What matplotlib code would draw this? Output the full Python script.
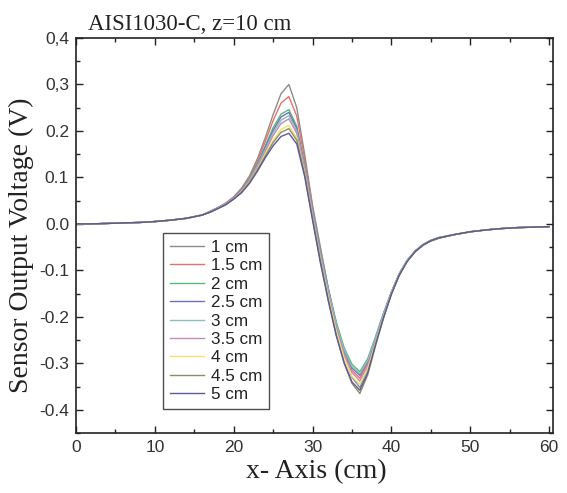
import matplotlib
matplotlib.use("Agg")
import matplotlib.pyplot as plt
from matplotlib.ticker import MultipleLocator, FixedLocator, FixedFormatter

# ---------------- data ----------------
x_cm = [0, 2, 4, 6, 8, 10, 12, 14, 16,
        17, 18, 19, 20, 21, 22, 23, 24, 25, 26, 27, 28, 29, 30, 31, 32, 33, 34, 35, 36,
        37, 38, 39, 40, 41, 42, 43, 44, 45, 46,
        48, 50, 52, 54, 56, 58, 60]

left_tail = [0.000, 0.000, 0.001, 0.002, 0.003, 0.005, 0.008, 0.012, 0.019]
right_tail = [-0.023, -0.017, -0.013, -0.010, -0.008, -0.007, -0.006]

s_1cm = [0.027, 0.035, 0.045, 0.058, 0.077, 0.103, 0.140, 0.185, 0.235, 0.280, 0.300, 0.250, 0.150, 0.040,
         -0.050, -0.140, -0.220, -0.285, -0.330, -0.352, -0.312, -0.255, -0.200, -0.150, -0.110, -0.080,
         -0.060, -0.046, -0.037, -0.031]
s_1p5cm = [0.027, 0.035, 0.044, 0.057, 0.075, 0.100, 0.135, 0.177, 0.222, 0.260, 0.274, 0.232, 0.140, 0.035,
           -0.055, -0.140, -0.215, -0.275, -0.315, -0.332, -0.300, -0.248, -0.196, -0.148, -0.108, -0.079,
           -0.059, -0.045, -0.036, -0.030]
s_2cm = [0.026, 0.034, 0.044, 0.056, 0.073, 0.097, 0.130, 0.168, 0.207, 0.236, 0.246, 0.210, 0.128, 0.030,
         -0.058, -0.138, -0.210, -0.266, -0.302, -0.318, -0.290, -0.242, -0.192, -0.146, -0.107, -0.078,
         -0.058, -0.044, -0.035, -0.029]
s_2p5cm = [0.026, 0.034, 0.043, 0.056, 0.072, 0.095, 0.127, 0.164, 0.201, 0.230, 0.240, 0.205, 0.125, 0.028,
           -0.062, -0.142, -0.215, -0.272, -0.310, -0.326, -0.296, -0.246, -0.194, -0.147, -0.108, -0.079,
           -0.059, -0.045, -0.036, -0.030]
s_3cm = [0.026, 0.034, 0.043, 0.055, 0.071, 0.094, 0.125, 0.160, 0.196, 0.223, 0.233, 0.200, 0.122, 0.025,
         -0.064, -0.143, -0.214, -0.270, -0.307, -0.322, -0.294, -0.245, -0.194, -0.147, -0.108, -0.079,
         -0.059, -0.045, -0.036, -0.030]
s_3p5cm = [0.026, 0.034, 0.043, 0.055, 0.070, 0.092, 0.122, 0.156, 0.190, 0.216, 0.226, 0.195, 0.118, 0.020,
           -0.070, -0.150, -0.222, -0.280, -0.320, -0.338, -0.306, -0.252, -0.198, -0.149, -0.109, -0.080,
           -0.060, -0.045, -0.036, -0.030]
s_4cm = [0.025, 0.033, 0.042, 0.054, 0.069, 0.090, 0.118, 0.150, 0.180, 0.203, 0.212, 0.185, 0.110, 0.015,
         -0.076, -0.157, -0.230, -0.288, -0.328, -0.345, -0.312, -0.256, -0.200, -0.150, -0.110, -0.080,
         -0.060, -0.046, -0.036, -0.030]
s_4p5cm = [0.025, 0.033, 0.042, 0.054, 0.068, 0.089, 0.116, 0.146, 0.175, 0.197, 0.205, 0.180, 0.107, 0.012,
           -0.080, -0.163, -0.238, -0.300, -0.343, -0.365, -0.325, -0.262, -0.203, -0.152, -0.111, -0.081,
           -0.060, -0.046, -0.037, -0.031]
s_5cm = [0.025, 0.033, 0.041, 0.053, 0.067, 0.087, 0.113, 0.142, 0.168, 0.188, 0.195, 0.172, 0.102, 0.008,
         -0.084, -0.166, -0.240, -0.298, -0.340, -0.358, -0.320, -0.259, -0.202, -0.151, -0.110, -0.081,
         -0.060, -0.046, -0.036, -0.030]

labels = ["1 cm", "1.5 cm", "2 cm", "2.5 cm", "3 cm", "3.5 cm", "4 cm", "4.5 cm", "5 cm"]
cores = [s_1cm, s_1p5cm, s_2cm, s_2p5cm, s_3cm, s_3p5cm, s_4cm, s_4p5cm, s_5cm]
colors = ["#8c8c8c", "#e8706a", "#5bb878", "#7070b8", "#86c0bc", "#c48ab8", "#f2e070", "#8e8c62", "#5a5a9c"]

y_ticks = [0.4, 0.3, 0.2, 0.1, 0.0, -0.1, -0.2, -0.3, -0.4]
y_ticklabels = ["0,4", "0,3", "0.2", "0.1", "0.0", "-0.1", "-0.2", "-0.3", "-0.4"]
x_ticks = [0, 10, 20, 30, 40, 50, 60]

# ---------------- figure ----------------
fig = plt.figure(figsize=(5.67, 4.93), dpi=100)
ax = fig.add_axes([76 / 567, 1 - 433 / 493, (553 - 76) / 567, (433 - 38) / 493])

for lab, core, c in zip(labels, cores, colors):
    ax.plot(x_cm, left_tail + core + right_tail, color=c, lw=1.0, label=lab)

ax.set_xlim(0, 60.5)
ax.set_ylim(-0.45, 0.4)

ax.xaxis.set_major_locator(FixedLocator(x_ticks))
ax.xaxis.set_minor_locator(MultipleLocator(5))
ax.yaxis.set_major_locator(FixedLocator(y_ticks))
ax.yaxis.set_major_formatter(FixedFormatter(y_ticklabels))
ax.yaxis.set_minor_locator(MultipleLocator(0.05))

ax.tick_params(which="both", direction="in", top=True, right=True, colors="#222222",
               labelcolor="#333333")
ax.tick_params(which="major", length=5, width=1.0, labelsize=12.5, pad=5)
ax.tick_params(which="minor", length=3, width=1.0)
for lbl in ax.get_xticklabels() + ax.get_yticklabels():
    lbl.set_family("Liberation Sans")
for sp in ax.spines.values():
    sp.set_linewidth(1.2)
    sp.set_color("#222222")

ax.set_xlabel("x- Axis (cm)", family="Liberation Serif", fontsize=20, color="#222222")
ax.xaxis.set_label_coords(0.503, -0.065)
ax.set_ylabel("Sensor Output Voltage (V)", family="Liberation Serif", fontsize=20, color="#222222")
ax.yaxis.set_label_coords(-0.088, 0.475)

fig.text(88 / 567, 1 - 30 / 493, "AISI1030-C, z=10 cm", family="Liberation Serif", fontsize=16.5,
         color="#222222", ha="left", va="baseline")

leg = ax.legend(loc="upper left", bbox_to_anchor=((163 - 76) / 477, (433 - 233) / 395),
                borderaxespad=0, frameon=True, fancybox=False, handlelength=2.0,
                handletextpad=0.4, labelspacing=0.2, borderpad=0.4,
                prop={"family": "Liberation Sans", "size": 12.3})
leg.get_frame().set_edgecolor("#222222")
leg.get_frame().set_linewidth(1.0)
for t in leg.get_texts():
    t.set_color("#222222")

fig.savefig("out.png", dpi=100)
